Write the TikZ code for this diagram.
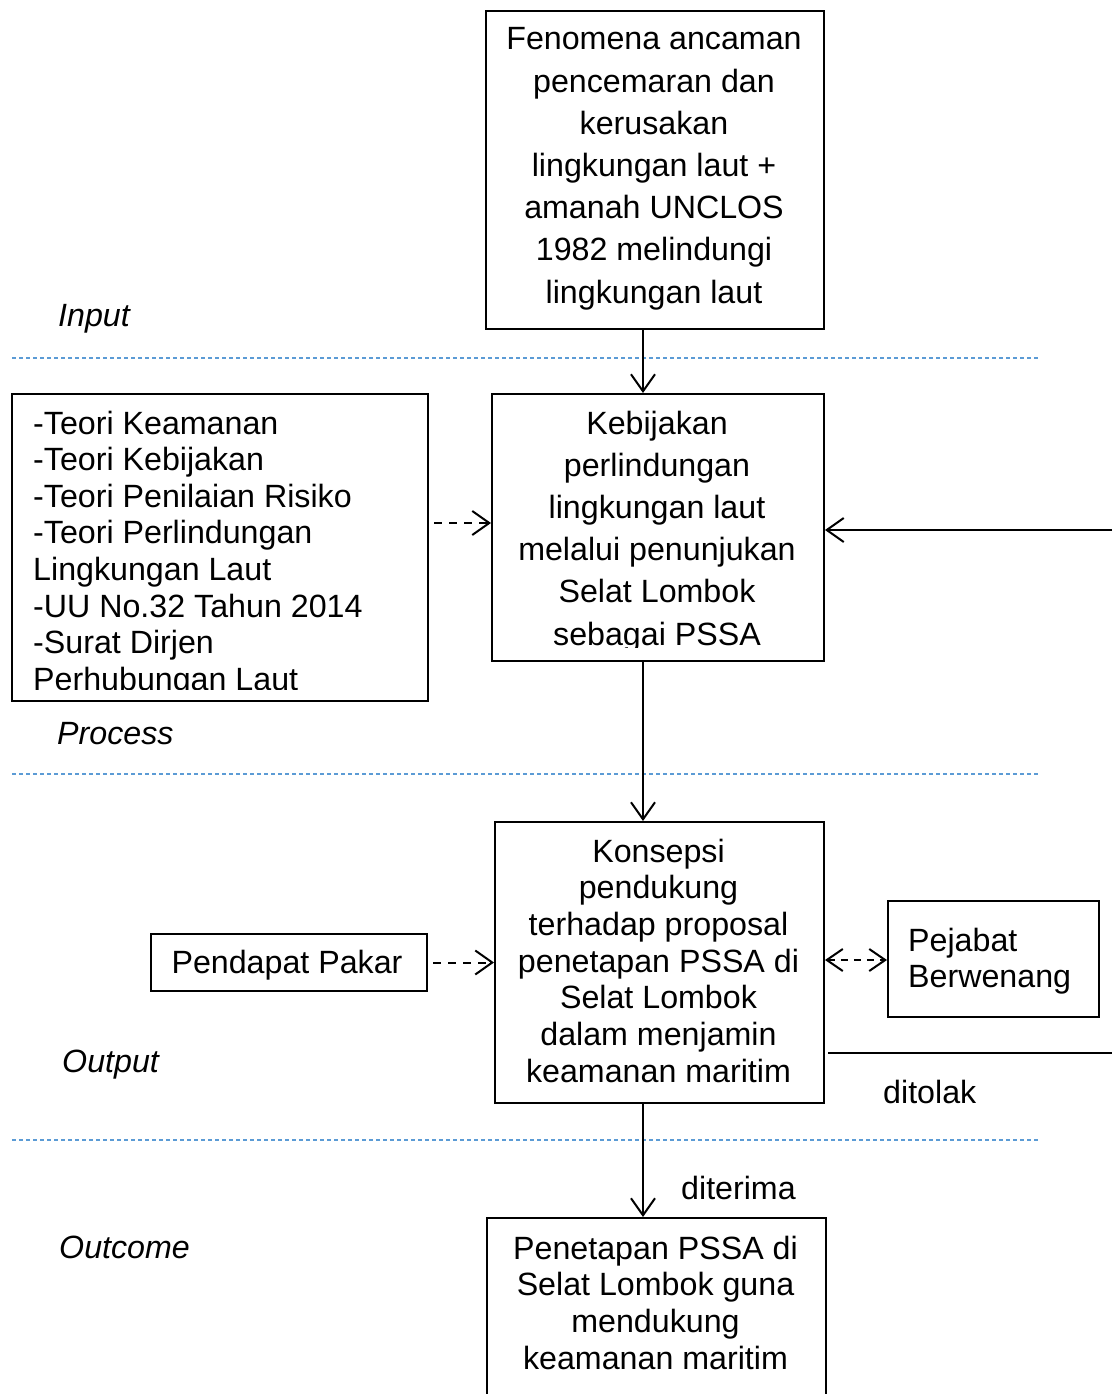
\documentclass[tikz,border=0pt]{standalone}
\usepackage{fontspec}
\setmainfont{Liberation Sans}
\usetikzlibrary{arrows.meta}
\definecolor{sepblue}{RGB}{91,155,213}
\newcommand\fs[1]{\fontsize{32.2}{#1}\selectfont}
\tikzset{
  boxnode/.style={draw, line width=2pt, rectangle, inner sep=0pt, anchor=north west},
  txt/.style={inner sep=0pt, anchor=base},
  conn/.style={line width=2pt, -{Straight Barb[length=17pt,width=24pt,line width=2pt]}},
  dconn/.style={conn, dash pattern=on 8pt off 7pt, dash phase=-5pt},
  ddconn/.style={line width=2pt, dash pattern=on 7pt off 6pt,
     {Straight Barb[length=16pt,width=22pt,line width=2pt]}-{Straight Barb[length=16pt,width=22pt,line width=2pt]}},
  sepline/.style={draw=sepblue, line width=1.5pt, dash pattern=on 4pt off 3pt},
  lbl/.style={inner sep=0pt, anchor=base west, font=\fs{36}\itshape},
  plain/.style={inner sep=0pt, anchor=base west, font=\fs{36}},
}
\begin{document}
\begin{tikzpicture}[x=1pt,y=-1pt]
\path[use as bounding box, clip] (0,0) rectangle (1112,1394);
\fill[white] (0,0) rectangle (1112,1394);

% separators
\coordinate (s1a) at (12,358); \coordinate (s1b) at (1040,358);
\coordinate (s2a) at (12,774); \coordinate (s2b) at (1040,774);
\coordinate (s3a) at (12,1140); \coordinate (s3b) at (1040,1140);
\draw[sepline] (s1a) -- (s1b);
\draw[sepline] (s2a) -- (s2b);
\draw[sepline] (s3a) -- (s3b);

% boxes
\node[boxnode, minimum width=338pt, minimum height=318pt] (top) at (485,10) {};
\node[boxnode, minimum width=332pt, minimum height=267pt] (keb) at (491,393) {};
\node[boxnode, minimum width=416pt, minimum height=307pt] (left) at (11,393) {};
\node[boxnode, minimum width=329pt, minimum height=281pt] (kon) at (494,821) {};
\node[boxnode, minimum width=276pt, minimum height=57pt] (pak) at (150,933) {};
\node[boxnode, minimum width=211pt, minimum height=116pt] (pej) at (887,900) {};
\node[boxnode, minimum width=339pt, minimum height=200pt] (bot) at (486,1217) {};

% texts
\node[txt] (toptxt) at (654,50) {\parbox[t]{334pt}{\centering\fs{42.2}
Fenomena ancaman\\ pencemaran dan\\ kerusakan\\ lingkungan laut +\\ amanah UNCLOS\\ 1982 melindungi\\ lingkungan laut}};

\begin{scope}
\clip (491,393) rectangle (823,647);
\node[txt] (kebtxt) at (657,434) {\parbox[t]{330pt}{\centering\fs{42.2}
Kebijakan\\ perlindungan\\ lingkungan laut\\ melalui penunjukan\\ Selat Lombok\\ sebagai PSSA}};
\end{scope}

\begin{scope}
\clip (11,393) rectangle (427,689);
\node[txt, anchor=base west] (lefttxt) at (33,434) {\parbox[t]{390pt}{\raggedright\fs{36.6}
-Teori Keamanan\\ -Teori Kebijakan\\ -Teori Penilaian Risiko\\ -Teori Perlindungan\\ Lingkungan Laut\\ -UU No.32 Tahun 2014\\ -Surat Dirjen\\ Perhubungan Laut}};
\end{scope}

\node[txt] (kontxt) at (658.5,862) {\parbox[t]{327pt}{\centering\fs{36.7}
Konsepsi\\ pendukung\\ terhadap proposal\\ penetapan PSSA di\\ Selat Lombok\\ dalam menjamin\\ keamanan maritim}};

\node[txt] (paktxt) at (287,973) {\fs{36}Pendapat Pakar};

\node[txt, anchor=base west] (pejtxt) at (908,951) {\parbox[t]{190pt}{\raggedright\fs{36}
Pejabat\\ Berwenang}};

\node[txt] (bottxt) at (655.5,1259) {\parbox[t]{337pt}{\centering\fs{36.7}
Penetapan PSSA di\\ Selat Lombok guna\\ mendukung\\ keamanan maritim}};

% stage labels
\node[lbl] (linput) at (58,326) {Input};
\node[lbl] (lprocess) at (57,744) {Process};
\node[lbl] (loutput) at (62,1072) {Output};
\node[lbl] (loutcome) at (59,1258) {Outcome};

\node[plain] (ltolak) at (883,1103) {ditolak};
\node[plain] (lterima) at (681,1199) {diterima};

% connectors
\coordinate (ax) at (643,0);
\coordinate (ay) at (0,523);
\coordinate (pejy) at (0,960);
\coordinate (fb1) at (1112,530);
\coordinate (fb2) at (1112,1053);

\draw[conn] (top.south -| ax) -- (keb.north -| ax);
\draw[conn] (keb.south -| ax) -- (kon.north -| ax);
\draw[conn] (kon.south -| ax) -- (bot.north -| ax);
\draw[dconn] (left.east |- ay) -- (keb.west |- ay);
\draw[dconn] (pak.east) -- (kon.west |- pak.east);
\draw[ddconn] (kon.east |- pejy) -- (pej.west |- pejy);
\draw[conn] (fb1) -- (keb.east |- fb1);
\draw[line width=1.3pt] ([xshift=3pt]kon.east |- fb2) -- (fb2);
\end{tikzpicture}
\end{document}
